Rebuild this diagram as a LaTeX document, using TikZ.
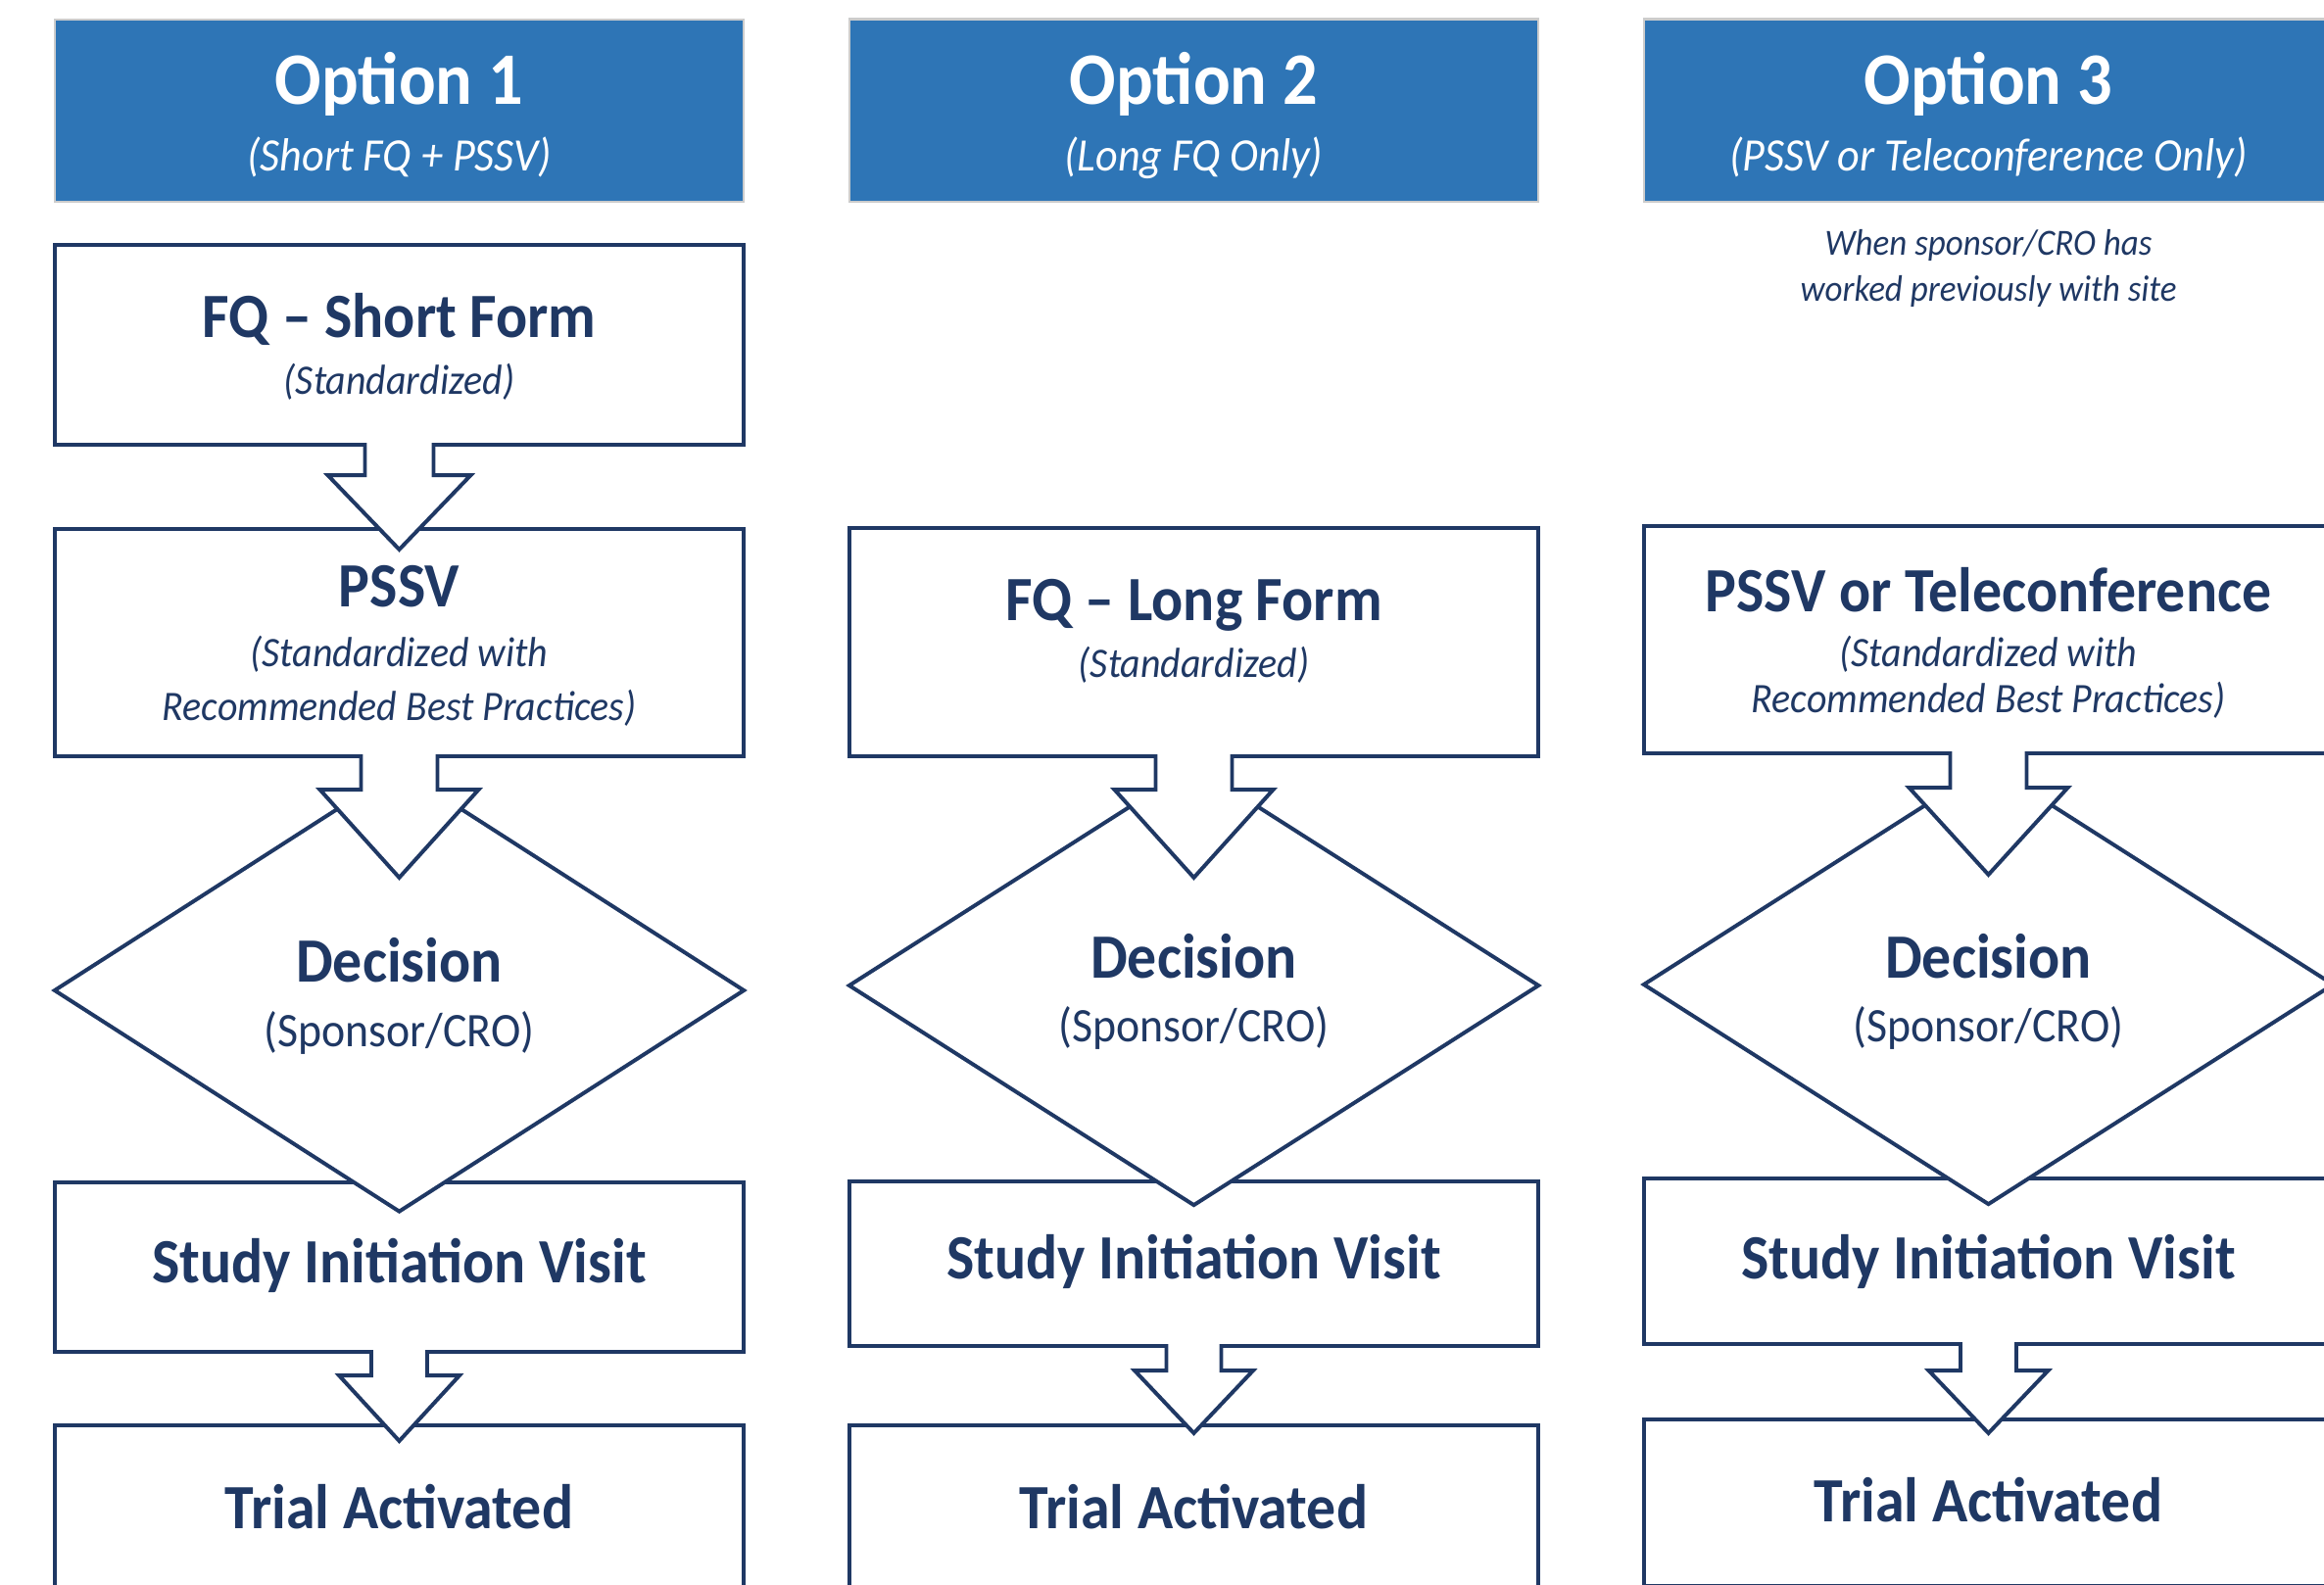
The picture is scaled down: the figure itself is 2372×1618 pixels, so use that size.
\documentclass[tikz,border=0pt]{standalone}
\usepackage{fontspec}
\setmainfont{Carlito}[FakeStretch=0.93]
\usetikzlibrary{shapes.geometric,calc}
\definecolor{navy}{HTML}{1F3864}
\definecolor{headblue}{HTML}{2E75B6}

% Hollow block arrow from the bottom of one shape into the next one.
% #1 from, #2 to, #3 shaft half width, #4 head half width,
% #5 shaft length, #6 depth of the tip below the top of #2
\newcommand\blockarrow[6]{%
  \coordinate (ba-s) at (#1.south);
  \coordinate (ba-t) at ($(#2.north)+(0,#6)$);
  \fill[white] ($(ba-s)+(-#3,-3)$) -- ($(ba-s)+(-#3,#5)$) -- ($(ba-s)+(-#4,#5)$)
     -- (ba-t) -- ($(ba-s)+(#4,#5)$) -- ($(ba-s)+(#3,#5)$) -- ($(ba-s)+(#3,-3)$) -- cycle;
  \draw[flow] ($(ba-s)+(-#3,-2)$) -- ($(ba-s)+(-#3,#5)$) -- ($(ba-s)+(-#4,#5)$)
     -- (ba-t) -- ($(ba-s)+(#4,#5)$) -- ($(ba-s)+(#3,#5)$) -- ($(ba-s)+(#3,-2)$);
}

\begin{document}
\begin{tikzpicture}[x=0.01cm,y=-0.01cm,
  stepbox/.style={draw=navy, line width=1.12pt, fill=white, rectangle,
    minimum width=7.03cm, inner sep=0pt, outer sep=0pt},
  decide/.style={draw=navy, line width=1.12pt, fill=white, diamond,
    minimum width=7.03cm, inner sep=0pt, outer sep=0pt},
  headbox/.style={fill=headblue, draw=black!20, line width=0.6pt,
    minimum width=7.03cm, minimum height=1.86cm, inner sep=0pt, outer sep=0pt},
  flow/.style={draw=navy, line width=1.12pt, line join=miter},
  txt/.style={anchor=base, inner sep=0pt, align=center},
  headtitle/.style={txt, text=white, font=\fontsize{21.5}{24}\selectfont\bfseries},
  headsub/.style={txt, text=white, font=\fontsize{13.5}{16}\selectfont\itshape},
  title/.style={txt, text=navy, font=\fontsize{18.3}{21}\selectfont\bfseries},
  sub/.style={txt, text=navy, font=\fontsize{12.2}{14}\selectfont\itshape},
  who/.style={txt, text=navy, font=\fontsize{14}{16}\selectfont},
  note/.style={txt, text=navy, font=\fontsize{10.7}{13}\selectfont\itshape},
]
\path[use as bounding box] (0,0) rectangle (2372,1618);
\clip (0,0) rectangle (2372,1618);
\fill[white] (0,0) rectangle (2372,1618);

% ---------- headers ----------
\node[headbox] (h1) at (407.5,113) {};
\node[headbox] (h2) at (1218.5,112.5) {};
\node[headbox] (h3) at (2029.5,112.5) {};

% ---------- column 1 ----------
\node[stepbox, minimum height=2.04cm] (fqs) at (407.5,352) {};
\node[stepbox, minimum height=2.32cm] (pssv1) at (407.5,656) {};
\node[stepbox, minimum height=1.73cm] (siv1) at (407.5,1293.5) {};
\node[stepbox, minimum height=1.70cm] (trial1) at (407.5,1540) {};
\node[decide, minimum height=4.51cm] (dec1) at (407.5,1011) {};

% ---------- column 2 ----------
\node[stepbox, minimum height=2.33cm] (fql) at (1218.5,655.5) {};
\node[stepbox, minimum height=1.68cm] (siv2) at (1218.5,1290) {};
\node[stepbox, minimum height=1.70cm] (trial2) at (1218.5,1540) {};
\node[decide, minimum height=4.48cm] (dec2) at (1218.5,1006) {};

% ---------- column 3 ----------
\node[stepbox, minimum height=2.32cm] (pt3) at (2029.5,653) {};
\node[stepbox, minimum height=1.69cm] (siv3) at (2029.5,1287.5) {};
\node[stepbox, minimum height=1.70cm] (trial3) at (2029.5,1534) {};
\node[decide, minimum height=4.48cm] (dec3) at (2029.5,1005) {};

% ---------- block arrows ----------
\blockarrow{fqs}{pssv1}{35}{73}{31}{21}
\blockarrow{pssv1}{dec1}{39}{81}{34}{110.5}
\blockarrow{siv1}{trial1}{28.5}{61.5}{24}{16}

\blockarrow{fql}{dec2}{39}{81}{34}{114}
\blockarrow{siv2}{trial2}{28}{60.5}{25}{8}

\blockarrow{pt3}{dec3}{39}{81}{35}{112}
\blockarrow{siv3}{trial3}{28.5}{61}{27}{14}

% ---------- header texts ----------
\node[headtitle] (h1t) at (407.5,106) {Option 1};
\node[headsub] (h1s) at (407.5,174) {(Short FQ + PSSV)};
\node[headtitle] (h2t) at (1218.5,106) {Option 2};
\node[headsub] (h2s) at (1218.5,174) {(Long FQ Only)};
\node[headtitle] (h3t) at (2029.5,106) {Option 3};
\node[headsub] (h3s) at (2029.5,174) {(PSSV or Teleconference Only)};

\node[note] (n3a) at (2029.5,260) {When sponsor/CRO has};
\node[note] (n3b) at (2029.5,307) {worked previously with site};

% ---------- box texts, column 1 ----------
\node[title] (fqs-t) at (407.5,344) {FQ – Short Form};
\node[sub] (fqs-s) at (407.5,402) {(Standardized)};
\node[title] (pssv1-t) at (407.5,619) {PSSV};
\node[sub] (pssv1-s) at (407.5,680) {(Standardized with};
\node[sub] (pssv1-r) at (407.5,735) {Recommended Best Practices)};
\node[title] (dec1-t) at (407.5,1002) {Decision};
\node[who] (dec1-s) at (407.5,1068) {(Sponsor/CRO)};
\node[title] (siv1-t) at (407.5,1309) {Study Initiation Visit};
\node[title] (trial1-t) at (407.5,1560) {Trial Activated};

% ---------- box texts, column 2 ----------
\node[title] (fql-t) at (1218.5,633) {FQ – Long Form};
\node[sub] (fql-s) at (1218.5,691) {(Standardized)};
\node[title] (dec2-t) at (1218.5,998) {Decision};
\node[who] (dec2-s) at (1218.5,1063) {(Sponsor/CRO)};
\node[title] (siv2-t) at (1218.5,1305) {Study Initiation Visit};
\node[title] (trial2-t) at (1218.5,1560) {Trial Activated};

% ---------- box texts, column 3 ----------
\node[title] (pt3-t) at (2029.5,624) {PSSV or Teleconference};
\node[sub] (pt3-s) at (2029.5,680) {(Standardized with};
\node[sub] (pt3-r) at (2029.5,727) {Recommended Best Practices)};
\node[title] (dec3-t) at (2029.5,998) {Decision};
\node[who] (dec3-s) at (2029.5,1063) {(Sponsor/CRO)};
\node[title] (siv3-t) at (2029.5,1305) {Study Initiation Visit};
\node[title] (trial3-t) at (2029.5,1553) {Trial Activated};
\end{tikzpicture}
\end{document}
